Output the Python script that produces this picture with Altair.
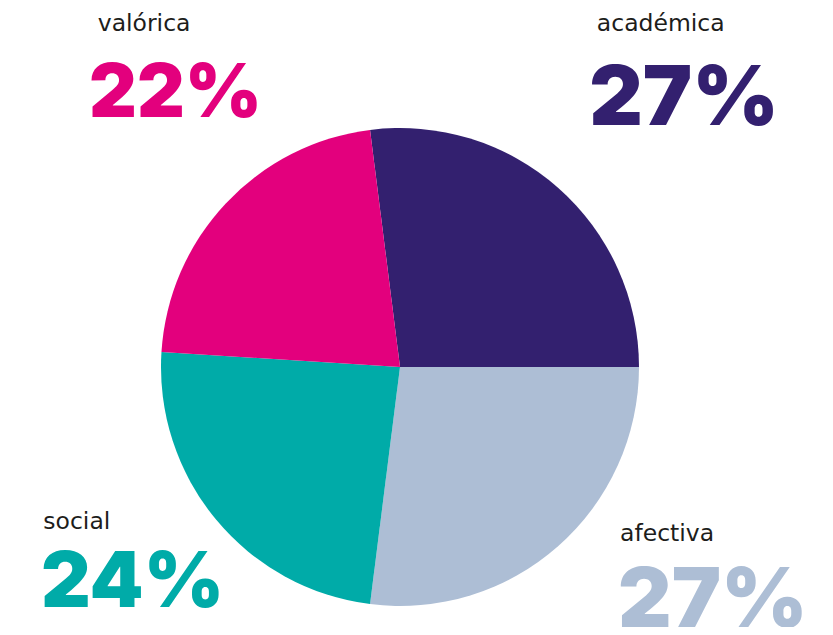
import math
import altair as alt
import pandas as pd

# ---- data ----
categories = ["académica", "afectiva", "social", "valórica"]
shares = [27, 27, 24, 22]
share_labels = ["27%", "27%", "24%", "22%"]
slice_colors = ["#33206f", "#adbed5", "#00aba8", "#e3007d"]

df = pd.DataFrame({
    "cat": categories,
    "value": shares,
    "pct": share_labels,
    "idx": list(range(len(categories))),
})

start = 2 * math.pi - math.radians(7.2)
theta_scale = alt.Scale(domain=[0, 100], range=[start, start + 2 * math.pi])
color_scale = alt.Scale(domain=categories, range=slice_colors)

arc = alt.Chart(df).mark_arc(radius=239).encode(
    theta=alt.Theta("value:Q", stack=True, scale=theta_scale),
    color=alt.Color("cat:N", scale=color_scale, legend=None),
    order=alt.Order("idx:Q"),
)


def label_layer(cat, field, size, dx, dy, font, weight, colored):
    base = (
        alt.Chart(df)
        .transform_window(cum="sum(value)", sort=[alt.SortField("idx")], frame=[None, 0])
        .transform_calculate(mid="datum.cum - datum.value / 2")
        .transform_filter(alt.datum.cat == cat)
    )
    enc = dict(
        theta=alt.Theta("mid:Q", scale=theta_scale),
        text=alt.Text(f"{field}:N"),
    )
    if colored:
        enc["color"] = alt.Color("cat:N", scale=color_scale, legend=None)
    else:
        enc["color"] = alt.value("#1d1d1b")
    return base.mark_text(
        radius=330, align="left", baseline="alphabetic",
        dx=dx, dy=dy, fontSize=size, font=font, fontWeight=weight,
    ).encode(**enc)


SMALL = "DejaVu Sans"
BIG = "Inter"

layers = [arc]
# small category labels
layers.append(label_layer("valórica", "cat", 23.5, -61.7, -110.1, SMALL, "normal", False))
layers.append(label_layer("académica", "cat", 23.5, -21.4, -88.4, SMALL, "normal", False))
layers.append(label_layer("social", "cat", 23.5, -102.4, -48.3, SMALL, "normal", False))
layers.append(label_layer("afectiva", "cat", 23.5, 1.8, -73.5, SMALL, "normal", False))
# big percentages
layers.append(label_layer("valórica", "pct", 74, -70.4, -24.1, BIG, 900, True))
layers.append(label_layer("académica", "pct", 83, -29.1, 5.6, BIG, 900, True))
layers.append(label_layer("social", "pct", 77, -104.7, 29.4, BIG, 900, True))
layers.append(label_layer("afectiva", "pct", 83, -0.2, 12.2, BIG, 900, True))

chart = (
    alt.layer(*layers)
    .properties(
        width=784,
        height=518,
        padding={"left": 0, "top": 100, "right": 33, "bottom": 1},
        autosize=alt.AutoSizeParams(type="none"),
        background="white",
    )
    .configure_view(stroke=None)
)

chart.save("out.html", embed_options={"renderer": "svg", "actions": False})
